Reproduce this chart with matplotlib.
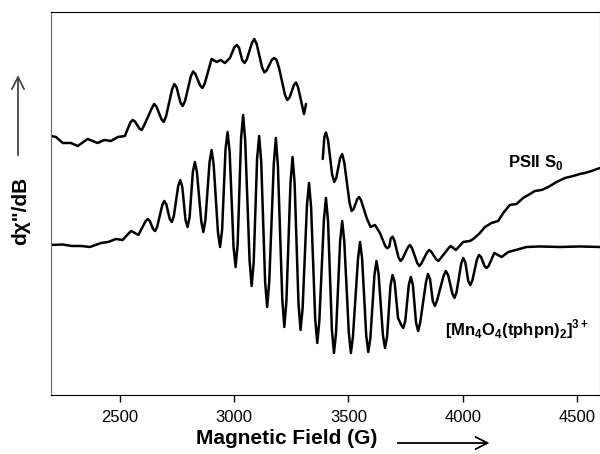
import matplotlib.pyplot as plt

plt.rcParams['font.family'] = ['Liberation Sans', 'DejaVu Sans']
plt.rcParams['mathtext.fontset'] = 'custom'
plt.rcParams['mathtext.rm'] = 'Liberation Sans'
plt.rcParams['mathtext.bf'] = 'Liberation Sans:bold'

# PSII S0 spectrum, low field part (field in G, signal in arbitrary units)
s0_field_a = [2200, 2222, 2251, 2287, 2317, 2360, 2404, 2433, 2462, 2492, 2523,
              2547, 2557, 2567, 2586, 2596, 2606, 2641, 2651, 2661, 2683, 2693,
              2703, 2729, 2739, 2749, 2766, 2776, 2786, 2811, 2821, 2831, 2852,
              2862, 2872, 2902, 2924, 2942, 2960, 2982, 3002, 3012, 3022, 3036,
              3046, 3056, 3079, 3089, 3099, 3123, 3133, 3143, 3165, 3175, 3185,
              3197, 3223, 3233, 3243, 3262, 3271, 3280, 3306, 3315]
s0_signal_a = [259, 258, 252, 252, 249, 256, 252, 255, 254, 258, 259,
               272.6, 275, 273.5, 266.5, 265, 269, 287, 291, 288.3, 275.7, 273,
               278.7, 305.3, 311, 307.7, 292.3, 289, 294, 318.3, 323.5, 321, 309.5,
               307, 311.4, 336, 333, 335, 332, 337, 348, 350, 347.3, 334.7,
               332, 335.6, 352.4, 356, 351, 327.5, 322.5, 324.7, 335, 337, 335.5,
               327, 300, 295, 297.6, 310, 312.5, 307.8, 281, 291]

# PSII S0 spectrum, high field part
s0_field_b = [3388, 3395, 3402, 3411, 3429, 3438, 3447, 3464, 3473, 3482, 3505,
              3514, 3523, 3539, 3547, 3555, 3580, 3597, 3616, 3638, 3661, 3670,
              3679, 3685, 3693, 3701, 3719, 3728, 3737, 3760, 3769, 3778, 3801,
              3810, 3819, 3844, 3853, 3862, 3884, 3893, 3902, 3938, 3947, 3956,
              3970, 4002, 4031, 4046, 4075, 4097, 4126, 4155, 4177, 4206, 4235,
              4264, 4294, 4315, 4345, 4374, 4410, 4447, 4483, 4512, 4534, 4563, 4600]
s0_signal_b = [236, 258, 262.5, 255, 220.5, 213, 217, 237, 241, 232.5, 192.5,
               184, 186, 196, 198, 195, 177, 168, 170, 162, 149, 146.7,
               148.4, 156.5, 158.3, 154.6, 137.6, 134, 136.4, 147.6, 150, 147, 132,
               129, 131.4, 142.6, 145, 143.3, 135.7, 134, 136.3, 146.8, 149, 147.4,
               145, 153, 154, 156, 162, 168, 172, 174, 182, 190, 191,
               197, 201, 204, 205, 208, 213, 217, 219, 221, 222, 224, 227]

# [Mn4O4(tphpn)2]3+ spectrum
mn_field = [2200, 2250, 2290, 2331, 2370, 2419, 2450, 2484, 2513, 2541, 2550,
            2559, 2582, 2614, 2623, 2632, 2646, 2655, 2664, 2686, 2695, 2704,
            2719, 2728, 2737, 2756, 2765, 2774, 2788, 2797, 2806, 2820, 2829,
            2838, 2857, 2866, 2875, 2893, 2902, 2911, 2930, 2939, 2948, 2963,
            2972, 2981, 2998, 3007, 3016, 3031, 3040, 3049, 3068, 3077, 3086,
            3101, 3110, 3119, 3136, 3145, 3154, 3174, 3183, 3192, 3211, 3220,
            3229, 3247, 3256, 3265, 3282, 3291, 3300, 3319, 3328, 3337, 3355,
            3364, 3373, 3393, 3402, 3411, 3428, 3437, 3446, 3464, 3473, 3482,
            3502, 3511, 3520, 3542, 3551, 3560, 3578, 3587, 3596, 3614, 3623,
            3632, 3651, 3660, 3669, 3684, 3693, 3702, 3717, 3731, 3740, 3749,
            3764, 3773, 3782, 3796, 3805, 3814, 3839, 3848, 3857, 3869, 3878,
            3887, 3916, 3926, 3936, 3955, 3964, 3973, 3993, 4002, 4011, 4024,
            4033, 4042, 4062, 4071, 4080, 4095, 4104, 4113, 4138, 4170, 4199,
            4232, 4279, 4337, 4425, 4512, 4600]
mn_signal = [150, 150.5, 149, 149, 148, 152, 153, 156, 155, 162, 164,
             163, 160, 174, 176, 174, 166, 164, 168, 189.5, 194, 190.8,
             176, 173, 179, 209, 215, 208, 175, 168, 178, 223, 233,
             222.5, 173.5, 163, 175, 232.7, 245, 230.5, 162.5, 148, 165, 246,
             263, 243, 148, 128, 151, 257, 280, 254, 135, 109, 132,
             236.5, 259, 233, 113.5, 88, 113, 231.5, 257, 228.5, 96, 68,
             93.5, 212.5, 238, 212, 91, 65, 87, 190, 212, 188, 76,
             52, 74, 175, 197, 174, 65, 42, 62, 154, 174, 154,
             62, 42, 58.5, 136, 153, 136.5, 59.5, 43, 56.5, 120, 134,
             121, 60, 47, 58, 109, 120, 113.5, 77, 70, 67, 74.5,
             110, 118, 110, 72, 64, 72.5, 112.5, 121, 116, 94, 89,
             94, 119, 124, 120, 101, 97, 103, 131, 137, 133, 114,
             110, 114.5, 135.5, 140, 138, 129, 127, 129, 142, 138, 143,
             145, 148, 148.5, 148, 148.5, 148]

x_ticks = [2500, 3000, 3500, 4000, 4500]

fig = plt.figure(figsize=(6, 4.54), dpi=100)
ax = fig.add_axes([0.085, 0.13, 0.915, 0.8436])

line_kw = dict(color='black', lw=1.8, solid_joinstyle='round', solid_capstyle='round')
ax.plot(s0_field_a, s0_signal_a, **line_kw)
ax.plot(s0_field_b, s0_signal_b, **line_kw)
ax.plot(mn_field, mn_signal, **line_kw)

ax.set_xlim(2200, 4600)
ax.set_ylim(0, 383)
ax.set_xticks(x_ticks)
ax.set_yticks([])
ax.tick_params(axis='x', direction='out', length=5, width=1, labelsize=12, pad=6)
for side in ['top', 'bottom']:
    ax.spines[side].set_color('black')
for side in ['left', 'right']:
    ax.spines[side].set_color('#666666')

ax.text(4197, 228, r'PSII S$_\mathbf{0}$', fontsize=12, fontweight='bold',
        va='baseline')
ax.text(3922, 60, r'[Mn$_\mathbf{4}$O$_\mathbf{4}$(tphpn)$_\mathbf{2}$]$^\mathbf{3+}$',
        fontsize=12, fontweight='bold', va='baseline')

# axis labels with arrows
fig.text(0.478, 0.034, 'Magnetic Field (G)', fontsize=15, fontweight='bold',
         ha='center', va='center')
fig.text(0.034, 0.535, 'dχ"/dB', fontsize=15, fontweight='bold',
         ha='center', va='center', rotation=90)
fig.add_artist(plt.annotate('', xy=(0.82, 0.0242), xytext=(0.658, 0.0242),
                            xycoords='figure fraction', textcoords='figure fraction',
                            arrowprops=dict(arrowstyle='->', lw=1, color='black',
                                            mutation_scale=22)))
fig.add_artist(plt.annotate('', xy=(0.03, 0.84), xytext=(0.03, 0.652),
                            xycoords='figure fraction', textcoords='figure fraction',
                            arrowprops=dict(arrowstyle='->', lw=1, color='#444444',
                                            mutation_scale=22)))

fig.savefig('out.png', dpi=100)
